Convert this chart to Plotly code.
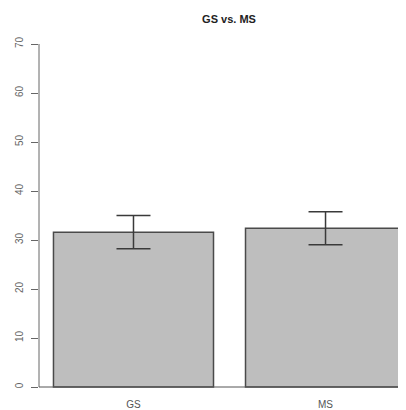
import plotly.graph_objects as go

categories = ["GS", "MS"]
means = [31.6, 32.4]
errors = [3.4, 3.35]
y_ticks = [0, 10, 20, 30, 40, 50, 60, 70]
title_text = "GS vs. MS"

# page body has an 8px default margin; figure is sized to compensate
W, H = 398, 402

fig = go.Figure()
fig.add_trace(go.Bar(
    x=categories,
    y=means,
    marker=dict(color="#bebebe", line=dict(color="#4a4a4a", width=1.5)),
    error_y=dict(type="data", array=errors, visible=True,
                 color="#3a3a3a", thickness=1.5, width=17),
    showlegend=False,
))

fig.update_layout(
    width=W, height=H,
    margin=dict(l=31, r=0, t=22, b=10, autoexpand=False),
    paper_bgcolor="white", plot_bgcolor="white",
    bargap=1/6,
    font=dict(family="Liberation Sans, Arial, sans-serif", color="#555555", size=10),
    title=dict(text="<b>" + title_text + "</b>", x=(229 - 8) / W, xref="container", xanchor="center",
               y=1 - (19 - 8) / H, yref="container", yanchor="middle",
               font=dict(size=11, color="#222222", family="Liberation Sans, Arial, sans-serif")),
    xaxis=dict(type="category", range=[-0.492, 1.419], showline=False, showgrid=False,
               zeroline=False, ticks="", automargin=False, ticklabelstandoff=-3,
               tickfont=dict(size=10, color="#555555")),
    yaxis=dict(range=[-2.653, 72.857], tickvals=y_ticks, ticktext=[str(v) for v in y_ticks],
               tickangle=-90, ticks="outside", ticklen=7, tickwidth=1, tickcolor="#666666",
               showline=False, showgrid=False, zeroline=False, automargin=False,
               tickfont=dict(size=10, color="#666666"), ticklabelstandoff=4),
    shapes=[
        dict(type="line", xref="paper", yref="y", x0=0, x1=0, y0=y_ticks[0], y1=y_ticks[-1],
             line=dict(color="#666666", width=1)),
        dict(type="line", xref="paper", yref="y", x0=0, x1=1, y0=0, y1=0,
             line=dict(color="#555555", width=1)),
    ],
)

fig.write_html("out.html")
